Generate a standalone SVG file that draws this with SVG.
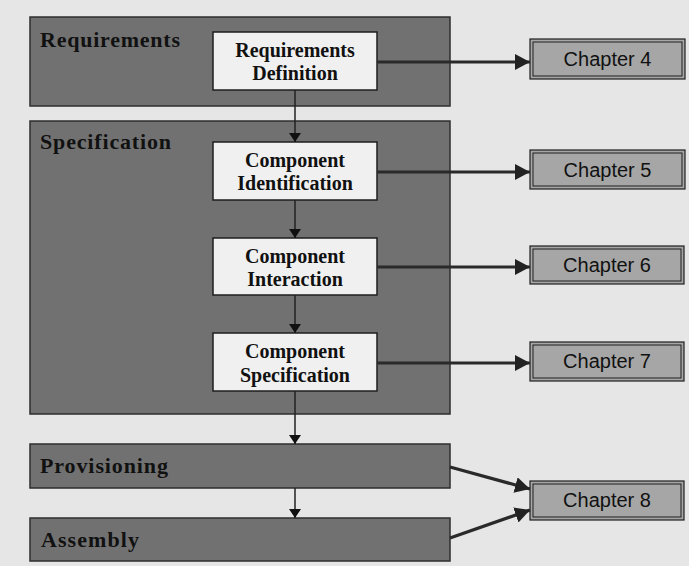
<svg xmlns="http://www.w3.org/2000/svg" width="689" height="566" viewBox="0 0 689 566">
  <style>
    .panel { fill: #717171; stroke: #2e2e2e; stroke-width: 1.5; }
    .step { fill: #f0f0f0; stroke: #1e1e1e; stroke-width: 1.5; }
    .chap { fill: #a6a6a6; stroke: #1e1e1e; stroke-width: 1.2; }
    .chapIn { fill: none; stroke: #1e1e1e; stroke-width: 1; }
    .phase { font-family: "Liberation Serif", "Times New Roman", serif; font-weight: bold; font-size: 22px; fill: #111; }
    .stepText { font-family: "Liberation Serif", "Times New Roman", serif; font-weight: bold; font-size: 20px; fill: #111; text-anchor: middle; }
    .chapText { font-family: "Liberation Sans", Arial, sans-serif; font-size: 20px; fill: #111; text-anchor: middle; }
    .flow { stroke: #222; stroke-width: 1.5; fill: none; marker-end: url(#smallHead); }
    .ref { stroke: #2a2a2a; stroke-width: 3.2; fill: none; marker-end: url(#bigHead); }
  </style>
  <defs>
    <marker id="smallHead" markerWidth="10" markerHeight="12" refX="9" refY="6" orient="auto" markerUnits="userSpaceOnUse">
      <path d="M0,0 L9,6 L0,12 Z" fill="#111"/>
    </marker>
    <marker id="bigHead" markerWidth="16" markerHeight="16" refX="15" refY="8" orient="auto" markerUnits="userSpaceOnUse">
      <path d="M0,0 L15,8 L0,16 Z" fill="#222"/>
    </marker>
  </defs>

  <!-- paper -->
  <rect x="0" y="0" width="689" height="566" fill="#e6e6e6"/>

  <!-- phase panels -->
  <g id="requirements">
    <rect class="panel" x="30" y="17" width="420" height="89"/>
    <text class="phase" x="40" y="47" textLength="140" lengthAdjust="spacing">Requirements</text>
  </g>
  <g id="specification">
    <rect class="panel" x="30" y="121" width="420" height="293"/>
    <text class="phase" x="40" y="149" textLength="131" lengthAdjust="spacing">Specification</text>
  </g>
  <g id="provisioning">
    <rect class="panel" x="30" y="444" width="420" height="44"/>
    <text class="phase" x="40" y="473" textLength="128" lengthAdjust="spacing">Provisioning</text>
  </g>
  <g id="assembly">
    <rect class="panel" x="30" y="518" width="420" height="43"/>
    <text class="phase" x="41" y="547" textLength="98" lengthAdjust="spacing">Assembly</text>
  </g>

  <!-- activity boxes -->
  <g id="requirements-definition">
    <rect class="step" x="213" y="32" width="164" height="58"/>
    <text class="stepText" x="295" y="57">Requirements</text>
    <text class="stepText" x="295" y="80">Definition</text>
  </g>
  <g id="component-identification">
    <rect class="step" x="213" y="142" width="164" height="58"/>
    <text class="stepText" x="295" y="167">Component</text>
    <text class="stepText" x="295" y="190">Identification</text>
  </g>
  <g id="component-interaction">
    <rect class="step" x="213" y="238" width="164" height="57"/>
    <text class="stepText" x="295" y="263">Component</text>
    <text class="stepText" x="295" y="286">Interaction</text>
  </g>
  <g id="component-specification">
    <rect class="step" x="213" y="333" width="164" height="58"/>
    <text class="stepText" x="295" y="358">Component</text>
    <text class="stepText" x="295" y="382">Specification</text>
  </g>

  <!-- chapter references -->
  <g id="chapter-4">
    <rect class="chap" x="530" y="39" width="155" height="40"/>
    <rect class="chapIn" x="533" y="42" width="149" height="34"/>
    <text class="chapText" x="607.5" y="66">Chapter 4</text>
  </g>
  <g id="chapter-5">
    <rect class="chap" x="530" y="150" width="155" height="39"/>
    <rect class="chapIn" x="533" y="153" width="149" height="33"/>
    <text class="chapText" x="607.5" y="177">Chapter 5</text>
  </g>
  <g id="chapter-6">
    <rect class="chap" x="530" y="246" width="154" height="38"/>
    <rect class="chapIn" x="533" y="249" width="148" height="32"/>
    <text class="chapText" x="607" y="272">Chapter 6</text>
  </g>
  <g id="chapter-7">
    <rect class="chap" x="530" y="342" width="154" height="39"/>
    <rect class="chapIn" x="533" y="345" width="148" height="33"/>
    <text class="chapText" x="607" y="368">Chapter 7</text>
  </g>
  <g id="chapter-8">
    <rect class="chap" x="530" y="481" width="154" height="39"/>
    <rect class="chapIn" x="533" y="484" width="148" height="33"/>
    <text class="chapText" x="607" y="507">Chapter 8</text>
  </g>

  <!-- connectors -->
  <g id="connectors">
    <line class="flow" x1="295" y1="90" x2="295" y2="142"/>
    <line class="flow" x1="295" y1="200" x2="295" y2="238"/>
    <line class="flow" x1="295" y1="295" x2="295" y2="333"/>
    <line class="flow" x1="295" y1="391" x2="295" y2="444"/>
    <line class="flow" x1="295" y1="488" x2="295" y2="518"/>

    <line class="ref" x1="377" y1="62" x2="530" y2="62"/>
    <line class="ref" x1="377" y1="172" x2="530" y2="172"/>
    <line class="ref" x1="377" y1="267" x2="530" y2="267"/>
    <line class="ref" x1="377" y1="363" x2="530" y2="363"/>
    <line class="ref" x1="450" y1="467" x2="530" y2="489"/>
    <line class="ref" x1="450" y1="538" x2="530" y2="510"/>
  </g>
</svg>
